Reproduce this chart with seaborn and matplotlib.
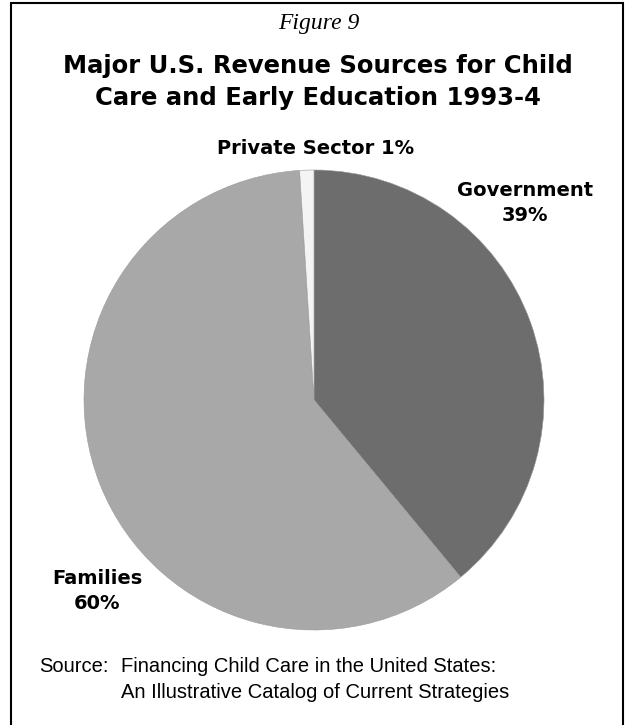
import numpy as np
import matplotlib
matplotlib.use('Agg')
import matplotlib.pyplot as plt
import seaborn as sns
from matplotlib.patches import Rectangle

# data
sources=['Government','Families','Private Sector']
shares=[39,60,1]
colors=['#6d6d6d','#a8a8a8','#f4f4f4']

sns.set_theme(style='white')
plt.rcParams['font.family']=['DejaVu Sans']
plt.rcParams['text.color']='black'

W,H=626,725
fig=plt.figure(figsize=(W/100,H/100),dpi=100)
fig.patch.set_facecolor('white')

# pie centre/radius in pixels
cx,cy,r=314,400,230
ax=fig.add_axes([(cx-r)/W,(H-cy-r)/H,2*r/W,2*r/H])
ax.pie(shares,colors=colors,startangle=90,counterclock=False,
       wedgeprops={'linewidth':0.4,'edgecolor':'#9a9a9a'})
ax.set_xlim(-1,1)
ax.set_ylim(-1,1)
ax.set_aspect('equal')
ax.axis('off')

# frame around figure
fig.patches.append(Rectangle((11/W,-0.05),612/W,1.05-3/H,transform=fig.transFigure,
                             fill=False,edgecolor='black',linewidth=1.5))

def fy(y):
    return 1-y/H

fig.text(319/W,fy(23),'Figure 9',ha='center',va='center',fontsize=17,
         family='Liberation Serif',style='italic')
fig.text(318/W,fy(66),'Major U.S. Revenue Sources for Child',ha='center',va='center',
         fontsize=17.5,weight='bold')
fig.text(318/W,fy(98),'Care and Early Education 1993-4',ha='center',va='center',
         fontsize=17.5,weight='bold')

lab_kw=dict(ha='center',va='center',fontsize=14,weight='bold',linespacing=1.35)
fig.text(316/W,fy(148),'%s %d%%'%(sources[2],shares[2]),**lab_kw)
fig.text(525/W,fy(203),'%s\n%d%%'%(sources[0],shares[0]),**lab_kw)
fig.text(97/W,fy(591),'%s\n%d%%'%(sources[1],shares[1]),**lab_kw)

src_kw=dict(ha='left',va='center',fontsize=14.5,family='Liberation Sans')
fig.text(39/W,fy(667),'Source:',**src_kw)
fig.text(121/W,fy(667),'Financing Child Care in the United States:',**src_kw)
fig.text(121/W,fy(692),'An Illustrative Catalog of Current Strategies',**src_kw)

plt.savefig('out.png',dpi=100)
